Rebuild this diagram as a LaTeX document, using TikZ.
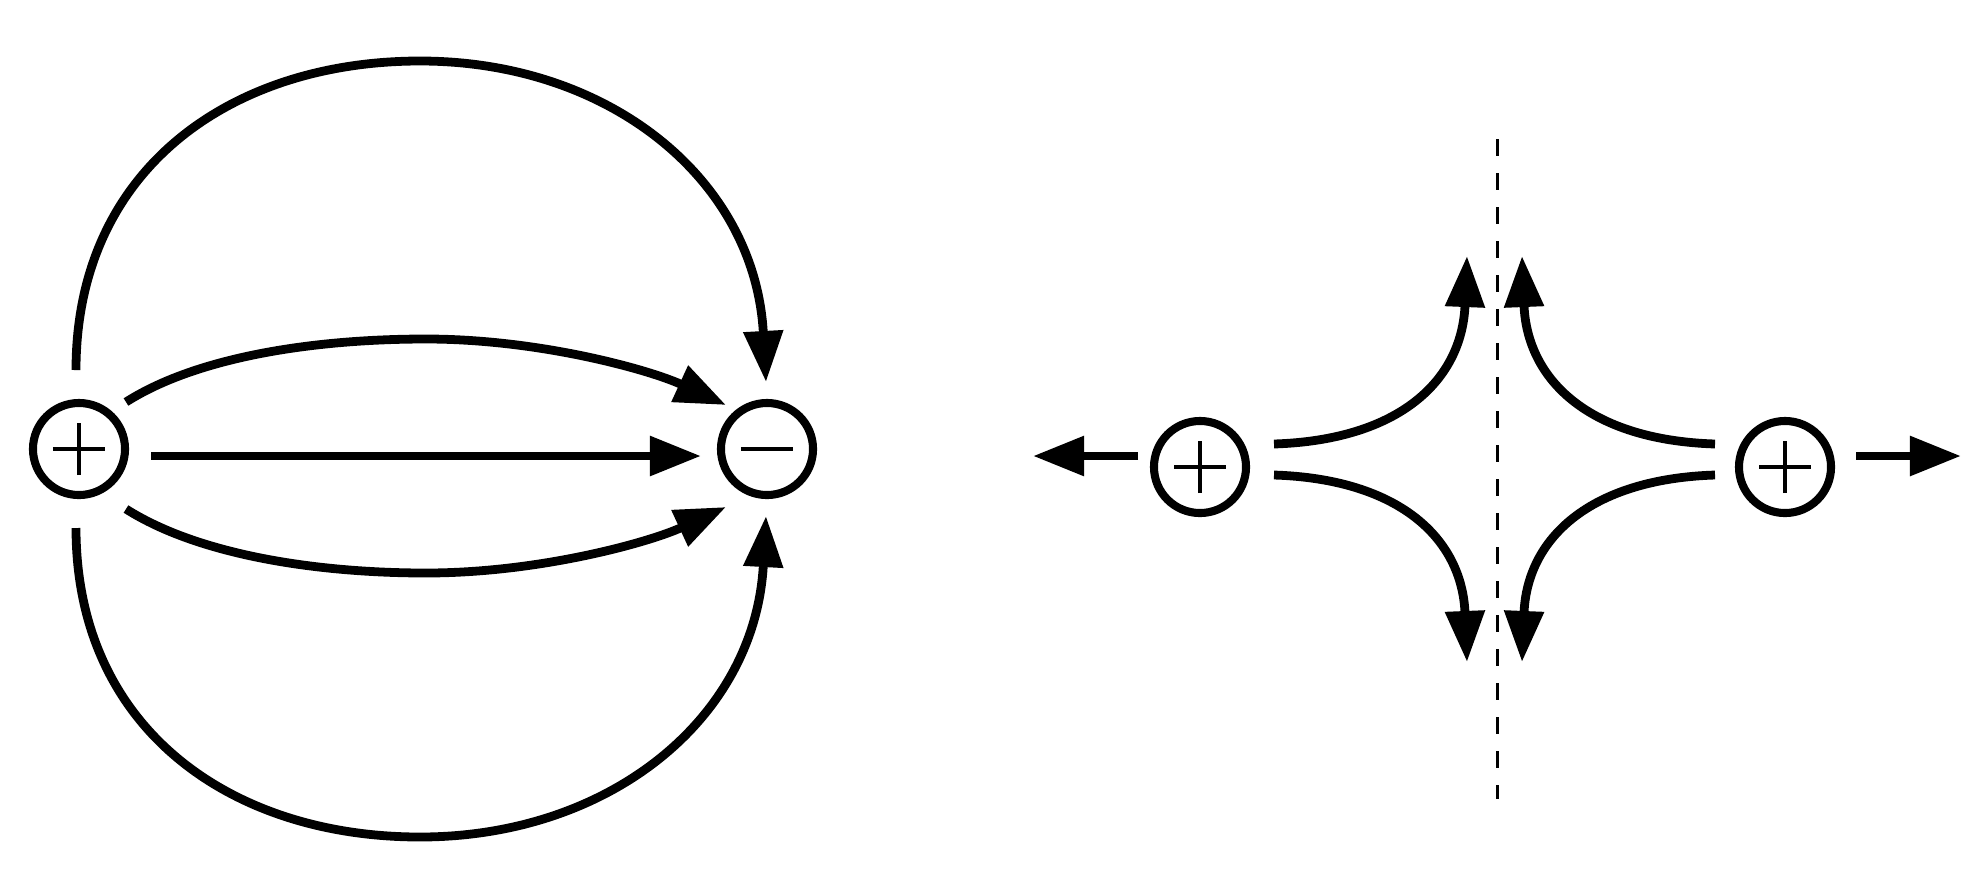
\documentclass[tikz,border=0pt]{standalone}
\usetikzlibrary{arrows.meta}
\begin{document}
\begin{tikzpicture}[x=0.01cm,y=-0.01cm,
  charge/.style={circle,draw,line width=2.3pt,minimum size=0.92cm,inner sep=0pt},
  fl/.style={line width=2.5pt,-{Triangle[length=0.51cm,width=0.38cm]}},
  sgn/.style={line width=0.9pt}]
\useasboundingbox (0,0) rectangle (1988,872);
\node[charge] (p1) at (79,449) {};
\node[charge] (m1) at (767,449) {};
\node[charge] (p2) at (1200,467) {};
\node[charge] (p3) at (1785,467) {};
\foreach \n in {p1,p2,p3}{\draw[sgn] ([xshift=-0.26cm]\n.center) -- ([xshift=0.26cm]\n.center) ([yshift=-0.26cm]\n.center) -- ([yshift=0.26cm]\n.center);}
\draw[sgn] ([xshift=-0.26cm]m1.center) -- ([xshift=0.26cm]m1.center);
% left field
\coordinate (s0) at (151,456); \coordinate (e0) at (701,456);
\draw[fl] (s0) -- (e0);
\draw[fl] (76,370) .. controls (76,170) and (230,61) .. (420,61) .. controls (610,61) and (755,180) .. (766,382);
\draw[fl] (76,528) .. controls (76,728) and (230,837) .. (420,837) .. controls (610,837) and (755,718) .. (766,516);
\draw[fl] (126,402) .. controls (200,355) and (320,339) .. (426,339) .. controls (540,339) and (650,370) .. (726,405);
\draw[fl] (126,509) .. controls (200,556) and (320,573) .. (426,573) .. controls (540,573) and (650,542) .. (726,507);
% right
\draw[line width=0.85pt,dash pattern=on 0.17cm off 0.17cm] (1497,139) -- (1497,799);
\draw[fl] (1138,456) -- (1033,456);
\draw[fl] (1856,456) -- (1961,456);
\draw[fl] (1274,444) .. controls (1400,440) and (1462,380) .. (1467,256);
\draw[fl] (1274,475) .. controls (1400,479) and (1462,539) .. (1467,662);
\draw[fl] (1715,444) .. controls (1589,440) and (1527,380) .. (1522,256);
\draw[fl] (1715,475) .. controls (1589,479) and (1527,539) .. (1522,662);
\end{tikzpicture}
\end{document}
